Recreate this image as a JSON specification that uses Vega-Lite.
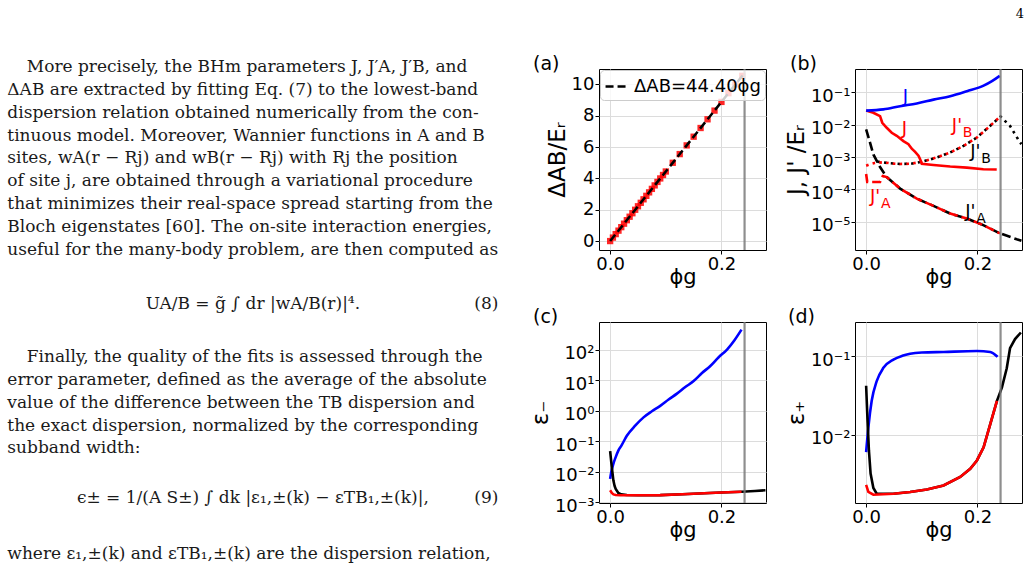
{
  "$schema": "https://vega.github.io/schema/vega-lite/v6.json",
  "background": "white",
  "autosize": {"type": "pad"},
  "padding": {"top": 8, "left": 0, "right": 0, "bottom": 0},
  "title": {"text": "4", "anchor": "end", "font": "DejaVu Serif", "fontSize": 13, "fontWeight": "normal", "color": "black", "offset": 23, "baseline": "alphabetic", "dx": -3},
  "columns": 3,
  "align": "each",
  "bounds": "flush",
  "spacing": {"row": 72, "column": 89},
  "resolve": {
    "scale": {"strokeDash": "independent", "color": "independent"},
    "legend": {"strokeDash": "independent", "color": "independent"}
  },
  "config": {
    "view": {"stroke": "black", "strokeWidth": 1},
    "axis": {
      "labelFont": "DejaVu Sans", "labelFontSize": 18, "labelColor": "black",
      "titleFont": "DejaVu Sans", "titleFontWeight": "normal", "titleColor": "black",
      "domain": false, "tickColor": "black", "tickSize": 4, "tickWidth": 1,
      "labelPadding": 1, "gridColor": "#dcdcdc", "gridWidth": 1,
      "labelFlush": false, "labelOverlap": false, "labelBound": false
    },
    "axisX": {"titlePadding": -7, "titleFontSize": 21},
    "axisY": {"titlePadding": 2, "titleFontSize": 23}
  },
  "datasets": {
    "pageText": [
      {"blk": "top", "kind": "indent", "ln": 1, "txt": "More precisely, the BHm parameters J, J′A, J′B, and"},
      {"blk": "top", "kind": "body", "ln": 2, "txt": "ΔAB are extracted by fitting Eq. (7) to the lowest-band"},
      {"blk": "top", "kind": "body", "ln": 3, "txt": "dispersion relation obtained numerically from the con-"},
      {"blk": "top", "kind": "body", "ln": 4, "txt": "tinuous model. Moreover, Wannier functions in A and B"},
      {"blk": "top", "kind": "body", "ln": 5, "txt": "sites, wA(r − Rj) and wB(r − Rj) with Rj the position"},
      {"blk": "top", "kind": "body", "ln": 6, "txt": "of site j, are obtained through a variational procedure"},
      {"blk": "top", "kind": "body", "ln": 7, "txt": "that minimizes their real-space spread starting from the"},
      {"blk": "top", "kind": "body", "ln": 8, "txt": "Bloch eigenstates [60]. The on-site interaction energies,"},
      {"blk": "top", "kind": "body", "ln": 9, "txt": "useful for the many-body problem, are then computed as"},
      {"blk": "bot", "kind": "eq", "ln": -1.34, "txt": "UA/B = g̃ ∫ dr |wA/B(r)|⁴."},
      {"blk": "bot", "kind": "eqno", "ln": -1.34, "txt": "(8)"},
      {"blk": "bot", "kind": "indent", "ln": 1, "txt": "Finally, the quality of the fits is assessed through the"},
      {"blk": "bot", "kind": "body", "ln": 2, "txt": "error parameter, defined as the average of the absolute"},
      {"blk": "bot", "kind": "body", "ln": 3, "txt": "value of the difference between the TB dispersion and"},
      {"blk": "bot", "kind": "body", "ln": 4, "txt": "the exact dispersion, normalized by the corresponding"},
      {"blk": "bot", "kind": "body", "ln": 5, "txt": "subband width:"},
      {"blk": "bot", "kind": "eq", "ln": 7.17, "txt": "ϵ± = 1/(A S±) ∫ dk |ε₁,±(k) − εTB₁,±(k)|,"},
      {"blk": "bot", "kind": "eqno", "ln": 7.17, "txt": "(9)"},
      {"blk": "bot", "kind": "body", "ln": 9.64, "txt": "where ε₁,±(k) and εTB₁,±(k) are the dispersion relation,"}
    ],
    "critical": [{"phi": 0.2415}],
    "aPts": [
      {"phi": 0, "d": 0}, {"phi": 0.005, "d": 0.222}, {"phi": 0.01, "d": 0.444}, {"phi": 0.015, "d": 0.666},
      {"phi": 0.02, "d": 0.888}, {"phi": 0.025, "d": 1.11}, {"phi": 0.03, "d": 1.332}, {"phi": 0.035, "d": 1.554},
      {"phi": 0.04, "d": 1.776}, {"phi": 0.045, "d": 1.998}, {"phi": 0.05, "d": 2.22}, {"phi": 0.055, "d": 2.442},
      {"phi": 0.06, "d": 2.664}, {"phi": 0.065, "d": 2.886}, {"phi": 0.07, "d": 3.108}, {"phi": 0.075, "d": 3.33},
      {"phi": 0.08, "d": 3.552}, {"phi": 0.085, "d": 3.774}, {"phi": 0.09, "d": 3.996}, {"phi": 0.095, "d": 4.218},
      {"phi": 0.1, "d": 4.44}, {"phi": 0.1125, "d": 4.995}, {"phi": 0.125, "d": 5.55}, {"phi": 0.1375, "d": 6.105},
      {"phi": 0.15, "d": 6.66}, {"phi": 0.1625, "d": 7.215}, {"phi": 0.175, "d": 7.77}, {"phi": 0.1875, "d": 8.325},
      {"phi": 0.2, "d": 8.88}, {"phi": 0.2125, "d": 9.435}, {"phi": 0.225, "d": 9.99}, {"phi": 0.2375, "d": 10.545}
    ],
    "aFit": [{"phi": 0, "d": 0}, {"phi": 0.24, "d": 10.656}],
    "bJ1": [
      {"phi": 0, "v": 0.027}, {"phi": 0.031, "v": 0.0295}, {"phi": 0.061, "v": 0.037}, {"phi": 0.091, "v": 0.0447},
      {"phi": 0.121, "v": 0.059}, {"phi": 0.151, "v": 0.075}, {"phi": 0.181, "v": 0.107}, {"phi": 0.211, "v": 0.159},
      {"phi": 0.226, "v": 0.22}, {"phi": 0.24, "v": 0.32}
    ],
    "bJ2": [
      {"phi": 0, "v": 0.027}, {"phi": 0.013, "v": 0.0232}, {"phi": 0.025, "v": 0.0183}, {"phi": 0.029, "v": 0.0114},
      {"phi": 0.037, "v": 0.008}, {"phi": 0.046, "v": 0.0056}, {"phi": 0.055, "v": 0.0045}, {"phi": 0.067, "v": 0.0031},
      {"phi": 0.076, "v": 0.0025}, {"phi": 0.082, "v": 0.0018}, {"phi": 0.088, "v": 0.00144}, {"phi": 0.094, "v": 0.0011},
      {"phi": 0.097, "v": 0.00085}, {"phi": 0.1, "v": 0.00062}, {"phi": 0.121, "v": 0.00057}, {"phi": 0.151, "v": 0.00051},
      {"phi": 0.181, "v": 0.00047}, {"phi": 0.2105, "v": 0.00042}, {"phi": 0.2346, "v": 0.00041}
    ],
    "bJB2": [
      {"phi": 0, "v": 0.00054}, {"phi": 0.006, "v": 0.00059}, {"phi": 0.015, "v": 0.00065}, {"phi": 0.031, "v": 0.00069},
      {"phi": 0.045, "v": 0.00063}, {"phi": 0.061, "v": 0.00061}, {"phi": 0.08, "v": 0.00062}, {"phi": 0.1, "v": 0.00071},
      {"phi": 0.127, "v": 0.00097}, {"phi": 0.151, "v": 0.00138}, {"phi": 0.175, "v": 0.0022}, {"phi": 0.199, "v": 0.004},
      {"phi": 0.2226, "v": 0.0091}, {"phi": 0.2405, "v": 0.0175}
    ],
    "bJB1": [
      {"phi": 0.02, "v": 0.00072}, {"phi": 0.04, "v": 0.00065}, {"phi": 0.061, "v": 0.00061}, {"phi": 0.08, "v": 0.00062},
      {"phi": 0.1, "v": 0.00071}, {"phi": 0.127, "v": 0.00097}, {"phi": 0.151, "v": 0.00138}, {"phi": 0.175, "v": 0.0022},
      {"phi": 0.199, "v": 0.004}, {"phi": 0.2226, "v": 0.0091}, {"phi": 0.2415, "v": 0.0178}, {"phi": 0.2585, "v": 0.0091},
      {"phi": 0.2765, "v": 0.0028}, {"phi": 0.279, "v": 0.0025}
    ],
    "bJA1": [
      {"phi": 0, "v": 0.0071}, {"phi": 0.007, "v": 0.0028}, {"phi": 0.013, "v": 0.0012}, {"phi": 0.025, "v": 0.00049},
      {"phi": 0.037, "v": 0.00024}, {"phi": 0.061, "v": 0.000106}, {"phi": 0.091, "v": 0.000052}, {"phi": 0.121, "v": 0.000031},
      {"phi": 0.151, "v": 0.000018}, {"phi": 0.181, "v": 0.0000126}, {"phi": 0.2105, "v": 0.0000079}, {"phi": 0.2405, "v": 0.0000044},
      {"phi": 0.2705, "v": 0.0000029}, {"phi": 0.279, "v": 0.0000026}
    ],
    "bJA2": [
      {"phi": 0, "v": 0.0003}, {"phi": 0.002, "v": 0.00017}, {"phi": 0.015, "v": 0.00017}, {"phi": 0.025, "v": 0.00017},
      {"phi": 0.03, "v": 0.00026}, {"phi": 0.037, "v": 0.00024}, {"phi": 0.061, "v": 0.000106}, {"phi": 0.091, "v": 0.000052},
      {"phi": 0.121, "v": 0.000031}, {"phi": 0.151, "v": 0.000018}, {"phi": 0.181, "v": 0.0000126}, {"phi": 0.2105, "v": 0.0000079},
      {"phi": 0.2405, "v": 0.0000044}
    ],
    "bLabels": [
      {"s": "J1", "t": "J", "phi": 0.066, "v": 0.05},
      {"s": "J2", "t": "J", "phi": 0.064, "v": 0.005},
      {"s": "JB2", "t": "J'", "sub": "B", "phi": 0.154, "v": 0.0064},
      {"s": "JB1", "t": "J'", "sub": "B", "phi": 0.187, "v": 0.00097},
      {"s": "JA2", "t": "J'", "sub": "A", "phi": 0.007, "v": 0.000041},
      {"s": "JA1", "t": "J'", "sub": "A", "phi": 0.178, "v": 0.000014}
    ],
    "cBlue": [
      {"phi": 0, "v": 0.0058}, {"phi": 0.002, "v": 0.0095}, {"phi": 0.0058, "v": 0.018}, {"phi": 0.01, "v": 0.03},
      {"phi": 0.0147, "v": 0.049}, {"phi": 0.02, "v": 0.07}, {"phi": 0.03, "v": 0.15}, {"phi": 0.045, "v": 0.32},
      {"phi": 0.06, "v": 0.6}, {"phi": 0.075, "v": 0.95}, {"phi": 0.09, "v": 1.43}, {"phi": 0.105, "v": 2.3},
      {"phi": 0.12, "v": 3.6}, {"phi": 0.135, "v": 5.9}, {"phi": 0.15, "v": 9.3}, {"phi": 0.165, "v": 17},
      {"phi": 0.18, "v": 29}, {"phi": 0.195, "v": 56}, {"phi": 0.21, "v": 100}, {"phi": 0.224, "v": 210},
      {"phi": 0.236, "v": 450}
    ],
    "cBlack": [
      {"phi": 0, "v": 0.047}, {"phi": 0.003, "v": 0.014}, {"phi": 0.0058, "v": 0.0052}, {"phi": 0.008, "v": 0.0034},
      {"phi": 0.01, "v": 0.0027}, {"phi": 0.0147, "v": 0.002}, {"phi": 0.02, "v": 0.0018}, {"phi": 0.03, "v": 0.00172},
      {"phi": 0.05, "v": 0.00168}, {"phi": 0.09, "v": 0.0017}, {"phi": 0.13, "v": 0.00182}, {"phi": 0.179, "v": 0.002},
      {"phi": 0.2, "v": 0.00208}, {"phi": 0.236, "v": 0.0022}, {"phi": 0.26, "v": 0.00232}, {"phi": 0.279, "v": 0.00245}
    ],
    "cRed": [
      {"phi": 0, "v": 0.00245}, {"phi": 0.003, "v": 0.002}, {"phi": 0.006, "v": 0.0018}, {"phi": 0.01, "v": 0.00172},
      {"phi": 0.018, "v": 0.00168}, {"phi": 0.05, "v": 0.00168}, {"phi": 0.09, "v": 0.0017}, {"phi": 0.13, "v": 0.00182},
      {"phi": 0.179, "v": 0.002}, {"phi": 0.2, "v": 0.00208}, {"phi": 0.236, "v": 0.0022}
    ],
    "dBlue": [
      {"phi": 0, "v": 0.006}, {"phi": 0.004, "v": 0.0124}, {"phi": 0.01, "v": 0.027}, {"phi": 0.019, "v": 0.048},
      {"phi": 0.031, "v": 0.071}, {"phi": 0.049, "v": 0.0905}, {"phi": 0.065, "v": 0.101}, {"phi": 0.079, "v": 0.107},
      {"phi": 0.1, "v": 0.111}, {"phi": 0.139, "v": 0.113}, {"phi": 0.199, "v": 0.116}, {"phi": 0.223, "v": 0.113},
      {"phi": 0.236, "v": 0.098}
    ],
    "dBlack": [
      {"phi": 0, "v": 0.042}, {"phi": 0.0023, "v": 0.0165}, {"phi": 0.005, "v": 0.0063}, {"phi": 0.008, "v": 0.0032},
      {"phi": 0.013, "v": 0.0021}, {"phi": 0.019, "v": 0.00177}, {"phi": 0.049, "v": 0.00177}, {"phi": 0.079, "v": 0.00186},
      {"phi": 0.109, "v": 0.002}, {"phi": 0.139, "v": 0.00226}, {"phi": 0.169, "v": 0.0029}, {"phi": 0.187, "v": 0.00367},
      {"phi": 0.199, "v": 0.0047}, {"phi": 0.211, "v": 0.0069}, {"phi": 0.223, "v": 0.0136}, {"phi": 0.235, "v": 0.027},
      {"phi": 0.244, "v": 0.04}, {"phi": 0.2526, "v": 0.07}, {"phi": 0.2585, "v": 0.126}, {"phi": 0.2675, "v": 0.165},
      {"phi": 0.278, "v": 0.2}
    ],
    "dRed": [
      {"phi": 0, "v": 0.0023}, {"phi": 0.004, "v": 0.00187}, {"phi": 0.013, "v": 0.00172}, {"phi": 0.049, "v": 0.00177},
      {"phi": 0.079, "v": 0.00186}, {"phi": 0.109, "v": 0.002}, {"phi": 0.139, "v": 0.00226}, {"phi": 0.169, "v": 0.0029},
      {"phi": 0.187, "v": 0.00367}, {"phi": 0.199, "v": 0.0047}, {"phi": 0.211, "v": 0.0069}, {"phi": 0.223, "v": 0.0136},
      {"phi": 0.235, "v": 0.027}
    ]
  },
  "concat": [
    {
      "width": 510, "height": 181,
      "view": {"stroke": null},
      "data": {"name": "pageText"},
      "transform": [{"filter": "datum.blk == 'top'"}],
      "layer": [
        {
          "transform": [{"filter": "datum.kind == 'body'"}],
          "mark": {"type": "text", "align": "left", "baseline": "alphabetic", "font": "DejaVu Serif", "fontSize": 17, "color": "#1a1a1a"},
          "encoding": {
            "x": {"datum": 0, "type": "quantitative", "scale": {"domain": [-0.01494, 1.02363], "nice": false, "zero": false}, "axis": null},
            "y": {"field": "ln", "type": "quantitative", "scale": {"domain": [0.8553, 8.7939], "nice": false, "zero": false, "reverse": true}, "axis": null},
            "text": {"field": "txt"}
          }
        },
        {
          "transform": [{"filter": "datum.kind == 'indent'"}],
          "mark": {"type": "text", "align": "left", "baseline": "alphabetic", "font": "DejaVu Serif", "fontSize": 17, "color": "#1a1a1a", "dx": 19.4},
          "encoding": {
            "x": {"datum": 0, "type": "quantitative", "scale": {"domain": [-0.01494, 1.02363], "nice": false, "zero": false}, "axis": null},
            "y": {"field": "ln", "type": "quantitative", "scale": {"domain": [0.8553, 8.7939], "nice": false, "zero": false, "reverse": true}, "axis": null},
            "text": {"field": "txt"}
          }
        }
      ]
    },
    {
      "width": 167, "height": 181,
      "title": {"text": "(a)", "anchor": "start", "frame": "group", "dx": -66, "dy": 22, "offset": 1, "baseline": "alphabetic", "font": "DejaVu Sans", "fontSize": 19, "fontWeight": "normal", "color": "black"},
      "layer": [
        {
          "data": {"name": "aPts"},
          "mark": {"type": "square", "size": 40, "color": "#ff0000", "opacity": 0.85, "filled": true},
          "encoding": {
            "x": {"field": "phi", "type": "quantitative", "title": "ϕg", "scale": {"domain": [-0.02, 0.28], "nice": false, "zero": false}, "axis": {"values": [0, 0.2], "format": ".1f", "grid": true, "labelOverlap": false}},
            "y": {"field": "d", "type": "quantitative", "title": "ΔAB/Eᵣ", "scale": {"domain": [-0.57, 10.98], "nice": false, "zero": false}, "axis": {"values": [0, 2, 4, 6, 8, 10], "grid": true, "labelOverlap": false}}
          }
        },
        {
          "data": {"name": "aFit"},
          "mark": {"type": "line", "color": "black", "strokeWidth": 2.5},
          "encoding": {
            "x": {"field": "phi", "type": "quantitative", "title": "ϕg", "scale": {"domain": [-0.02, 0.28], "nice": false, "zero": false}, "axis": {"values": [0, 0.2], "format": ".1f", "grid": true, "labelOverlap": false}},
            "y": {"field": "d", "type": "quantitative", "title": "ΔAB/Eᵣ", "scale": {"domain": [-0.57, 10.98], "nice": false, "zero": false}, "axis": {"values": [0, 2, 4, 6, 8, 10], "grid": true, "labelOverlap": false}},
            "strokeDash": {
              "datum": "ΔAB=44.40ϕg",
              "scale": {"range": [[8, 4]]},
              "legend": {
                "orient": "top-right", "offset": 1, "padding": 4, "title": null,
                "fillColor": "rgba(255,255,255,0.8)", "strokeColor": "#cccccc", "cornerRadius": 4,
                "symbolType": "stroke", "symbolSize": 480, "symbolStrokeWidth": 2.5, "symbolStrokeColor": "black",
                "labelFont": "DejaVu Sans", "labelFontSize": 18, "labelColor": "black", "labelLimit": 300, "labelOffset": 5
              }
            }
          }
        },
        {
          "data": {"name": "critical"},
          "mark": {"type": "rule", "color": "#7a7a7a", "strokeWidth": 2.2, "opacity": 0.85},
          "encoding": {
            "x": {"field": "phi", "type": "quantitative", "title": "ϕg", "scale": {"domain": [-0.02, 0.28], "nice": false, "zero": false}}
          }
        }
      ]
    },
    {
      "width": 167, "height": 181,
      "title": {"text": "(b)", "anchor": "start", "frame": "group", "dx": -65, "dy": 22, "offset": 1, "baseline": "alphabetic", "font": "DejaVu Sans", "fontSize": 19, "fontWeight": "normal", "color": "black"},
      "layer": [
        {
          "data": {"name": "bJA1"},
          "mark": {"type": "line", "color": "black", "strokeWidth": 2.6, "strokeDash": [9, 4]},
          "encoding": {
            "x": {"field": "phi", "type": "quantitative", "title": "ϕg", "scale": {"domain": [-0.02, 0.28], "nice": false, "zero": false}, "axis": {"values": [0, 0.2], "format": ".1f", "grid": true, "labelOverlap": false}},
            "y": {"field": "v", "type": "quantitative", "title": "J, J' /Eᵣ", "scale": {"type": "log", "domain": [1.35e-6, 0.52], "nice": false},
                  "axis": {"values": [1e-5, 1e-4, 1e-3, 1e-2, 1e-1], "grid": true, "labelOffset": 4, "labelOverlap": false,
                           "labelExpr": "datum.value < 3e-5 ? '10⁻⁵' : datum.value < 3e-4 ? '10⁻⁴' : datum.value < 3e-3 ? '10⁻³' : datum.value < 3e-2 ? '10⁻²' : datum.value < 0.3 ? '10⁻¹' : datum.value < 3 ? '10⁰' : datum.value < 30 ? '10¹' : '10²'"}}
          }
        },
        {
          "data": {"name": "bJA2"},
          "mark": {"type": "line", "color": "#ff0000", "strokeWidth": 2.6, "strokeDash": [9, 4]},
          "encoding": {
            "x": {"field": "phi", "type": "quantitative", "title": "ϕg", "scale": {"domain": [-0.02, 0.28], "nice": false, "zero": false}},
            "y": {"field": "v", "type": "quantitative", "title": "J, J' /Eᵣ", "scale": {"type": "log", "domain": [1.35e-6, 0.52], "nice": false}}
          }
        },
        {
          "data": {"name": "bJB1"},
          "mark": {"type": "line", "color": "black", "strokeWidth": 2.6, "strokeDash": [2.6, 4.2]},
          "encoding": {
            "x": {"field": "phi", "type": "quantitative", "title": "ϕg", "scale": {"domain": [-0.02, 0.28], "nice": false, "zero": false}},
            "y": {"field": "v", "type": "quantitative", "title": "J, J' /Eᵣ", "scale": {"type": "log", "domain": [1.35e-6, 0.52], "nice": false}}
          }
        },
        {
          "data": {"name": "bJB2"},
          "mark": {"type": "line", "color": "#ff0000", "strokeWidth": 2.6, "strokeDash": [2.6, 4.2]},
          "encoding": {
            "x": {"field": "phi", "type": "quantitative", "title": "ϕg", "scale": {"domain": [-0.02, 0.28], "nice": false, "zero": false}},
            "y": {"field": "v", "type": "quantitative", "title": "J, J' /Eᵣ", "scale": {"type": "log", "domain": [1.35e-6, 0.52], "nice": false}}
          }
        },
        {
          "data": {"name": "bJ2"},
          "mark": {"type": "line", "color": "#ff0000", "strokeWidth": 2.6},
          "encoding": {
            "x": {"field": "phi", "type": "quantitative", "title": "ϕg", "scale": {"domain": [-0.02, 0.28], "nice": false, "zero": false}},
            "y": {"field": "v", "type": "quantitative", "title": "J, J' /Eᵣ", "scale": {"type": "log", "domain": [1.35e-6, 0.52], "nice": false}}
          }
        },
        {
          "data": {"name": "bJ1"},
          "mark": {"type": "line", "color": "#0000ff", "strokeWidth": 2.6, "interpolate": "monotone"},
          "encoding": {
            "x": {"field": "phi", "type": "quantitative", "title": "ϕg", "scale": {"domain": [-0.02, 0.28], "nice": false, "zero": false}},
            "y": {"field": "v", "type": "quantitative", "title": "J, J' /Eᵣ", "scale": {"type": "log", "domain": [1.35e-6, 0.52], "nice": false}}
          }
        },
        {
          "data": {"name": "bLabels"},
          "mark": {"type": "text", "align": "left", "baseline": "alphabetic", "font": "DejaVu Sans", "fontSize": 18},
          "encoding": {
            "x": {"field": "phi", "type": "quantitative", "title": "ϕg", "scale": {"domain": [-0.02, 0.28], "nice": false, "zero": false}},
            "y": {"field": "v", "type": "quantitative", "title": "J, J' /Eᵣ", "scale": {"type": "log", "domain": [1.35e-6, 0.52], "nice": false}},
            "text": {"field": "t"},
            "color": {"field": "s", "type": "nominal", "scale": {"domain": ["J1", "J2", "JB2", "JB1", "JA2", "JA1"], "range": ["#0000ff", "#ff0000", "#ff0000", "#000000", "#ff0000", "#000000"]}, "legend": null}
          }
        },
        {
          "data": {"name": "bLabels"},
          "transform": [{"filter": "isValid(datum.sub)"}],
          "mark": {"type": "text", "align": "left", "baseline": "alphabetic", "font": "DejaVu Sans", "fontSize": 14, "dx": 11, "dy": 6},
          "encoding": {
            "x": {"field": "phi", "type": "quantitative", "title": "ϕg", "scale": {"domain": [-0.02, 0.28], "nice": false, "zero": false}},
            "y": {"field": "v", "type": "quantitative", "title": "J, J' /Eᵣ", "scale": {"type": "log", "domain": [1.35e-6, 0.52], "nice": false}},
            "text": {"field": "sub"},
            "color": {"field": "s", "type": "nominal", "scale": {"domain": ["J1", "J2", "JB2", "JB1", "JA2", "JA1"], "range": ["#0000ff", "#ff0000", "#ff0000", "#000000", "#ff0000", "#000000"]}, "legend": null}
          }
        },
        {
          "data": {"name": "critical"},
          "mark": {"type": "rule", "color": "#7a7a7a", "strokeWidth": 2.2, "opacity": 0.85},
          "encoding": {
            "x": {"field": "phi", "type": "quantitative", "title": "ϕg", "scale": {"domain": [-0.02, 0.28], "nice": false, "zero": false}}
          }
        }
      ]
    },
    {
      "width": 510, "height": 181,
      "view": {"stroke": null},
      "data": {"name": "pageText"},
      "transform": [{"filter": "datum.blk == 'bot'"}],
      "layer": [
        {
          "transform": [{"filter": "datum.kind == 'body'"}],
          "mark": {"type": "text", "align": "left", "baseline": "alphabetic", "font": "DejaVu Serif", "fontSize": 17, "color": "#1a1a1a"},
          "encoding": {
            "x": {"datum": 0, "type": "quantitative", "scale": {"domain": [-0.01494, 1.02363], "nice": false, "zero": false}, "axis": null},
            "y": {"field": "ln", "type": "quantitative", "scale": {"domain": [-0.7675, 7.1711], "nice": false, "zero": false, "reverse": true}, "axis": null},
            "text": {"field": "txt"}
          }
        },
        {
          "transform": [{"filter": "datum.kind == 'indent'"}],
          "mark": {"type": "text", "align": "left", "baseline": "alphabetic", "font": "DejaVu Serif", "fontSize": 17, "color": "#1a1a1a", "dx": 19.4},
          "encoding": {
            "x": {"datum": 0, "type": "quantitative", "scale": {"domain": [-0.01494, 1.02363], "nice": false, "zero": false}, "axis": null},
            "y": {"field": "ln", "type": "quantitative", "scale": {"domain": [-0.7675, 7.1711], "nice": false, "zero": false, "reverse": true}, "axis": null},
            "text": {"field": "txt"}
          }
        },
        {
          "transform": [{"filter": "datum.kind == 'eq'"}],
          "mark": {"type": "text", "align": "center", "baseline": "alphabetic", "font": "DejaVu Serif", "fontSize": 17, "color": "#1a1a1a"},
          "encoding": {
            "x": {"datum": 0.5, "type": "quantitative", "scale": {"domain": [-0.01494, 1.02363], "nice": false, "zero": false}, "axis": null},
            "y": {"field": "ln", "type": "quantitative", "scale": {"domain": [-0.7675, 7.1711], "nice": false, "zero": false, "reverse": true}, "axis": null},
            "text": {"field": "txt"}
          }
        },
        {
          "transform": [{"filter": "datum.kind == 'eqno'"}],
          "mark": {"type": "text", "align": "right", "baseline": "alphabetic", "font": "DejaVu Serif", "fontSize": 17, "color": "#1a1a1a"},
          "encoding": {
            "x": {"datum": 1, "type": "quantitative", "scale": {"domain": [-0.01494, 1.02363], "nice": false, "zero": false}, "axis": null},
            "y": {"field": "ln", "type": "quantitative", "scale": {"domain": [-0.7675, 7.1711], "nice": false, "zero": false, "reverse": true}, "axis": null},
            "text": {"field": "txt"}
          }
        }
      ]
    },
    {
      "width": 167, "height": 181,
      "title": {"text": "(c)", "anchor": "start", "frame": "group", "dx": -66, "dy": 22, "offset": 1, "baseline": "alphabetic", "font": "DejaVu Sans", "fontSize": 19, "fontWeight": "normal", "color": "black"},
      "layer": [
        {
          "data": {"name": "cBlue"},
          "mark": {"type": "line", "color": "#0000ff", "strokeWidth": 2.6, "interpolate": "monotone"},
          "encoding": {
            "x": {"field": "phi", "type": "quantitative", "title": "ϕg", "scale": {"domain": [-0.02, 0.28], "nice": false, "zero": false}, "axis": {"values": [0, 0.2], "format": ".1f", "grid": true, "labelOverlap": false}},
            "y": {"field": "v", "type": "quantitative", "title": "ε₋", "scale": {"type": "log", "domain": [0.00094, 800], "nice": false},
                  "axis": {"values": [1e-3, 1e-2, 1e-1, 1, 10, 100], "grid": true, "labelOffset": 4, "labelOverlap": false,
                           "labelExpr": "datum.value < 3e-5 ? '10⁻⁵' : datum.value < 3e-4 ? '10⁻⁴' : datum.value < 3e-3 ? '10⁻³' : datum.value < 3e-2 ? '10⁻²' : datum.value < 0.3 ? '10⁻¹' : datum.value < 3 ? '10⁰' : datum.value < 30 ? '10¹' : '10²'"}}
          }
        },
        {
          "data": {"name": "cBlack"},
          "mark": {"type": "line", "color": "black", "strokeWidth": 2.6},
          "encoding": {
            "x": {"field": "phi", "type": "quantitative", "title": "ϕg", "scale": {"domain": [-0.02, 0.28], "nice": false, "zero": false}},
            "y": {"field": "v", "type": "quantitative", "title": "ε₋", "scale": {"type": "log", "domain": [0.00094, 800], "nice": false}}
          }
        },
        {
          "data": {"name": "cRed"},
          "mark": {"type": "line", "color": "#ff0000", "strokeWidth": 2.6},
          "encoding": {
            "x": {"field": "phi", "type": "quantitative", "title": "ϕg", "scale": {"domain": [-0.02, 0.28], "nice": false, "zero": false}},
            "y": {"field": "v", "type": "quantitative", "title": "ε₋", "scale": {"type": "log", "domain": [0.00094, 800], "nice": false}}
          }
        },
        {
          "data": {"name": "critical"},
          "mark": {"type": "rule", "color": "#7a7a7a", "strokeWidth": 2.2, "opacity": 0.85},
          "encoding": {
            "x": {"field": "phi", "type": "quantitative", "title": "ϕg", "scale": {"domain": [-0.02, 0.28], "nice": false, "zero": false}}
          }
        }
      ]
    },
    {
      "width": 167, "height": 181,
      "title": {"text": "(d)", "anchor": "start", "frame": "group", "dx": -67, "dy": 22, "offset": 1, "baseline": "alphabetic", "font": "DejaVu Sans", "fontSize": 19, "fontWeight": "normal", "color": "black"},
      "layer": [
        {
          "data": {"name": "dBlue"},
          "mark": {"type": "line", "color": "#0000ff", "strokeWidth": 2.6, "interpolate": "monotone"},
          "encoding": {
            "x": {"field": "phi", "type": "quantitative", "title": "ϕg", "scale": {"domain": [-0.02, 0.28], "nice": false, "zero": false}, "axis": {"values": [0, 0.2], "format": ".1f", "grid": true, "labelOverlap": false}},
            "y": {"field": "v", "type": "quantitative", "title": "ε₊", "scale": {"type": "log", "domain": [0.00135, 0.272], "nice": false},
                  "axis": {"values": [1e-2, 1e-1], "grid": true, "labelOffset": 4, "labelOverlap": false,
                           "labelExpr": "datum.value < 3e-5 ? '10⁻⁵' : datum.value < 3e-4 ? '10⁻⁴' : datum.value < 3e-3 ? '10⁻³' : datum.value < 3e-2 ? '10⁻²' : datum.value < 0.3 ? '10⁻¹' : datum.value < 3 ? '10⁰' : datum.value < 30 ? '10¹' : '10²'"}}
          }
        },
        {
          "data": {"name": "dBlack"},
          "mark": {"type": "line", "color": "black", "strokeWidth": 2.6},
          "encoding": {
            "x": {"field": "phi", "type": "quantitative", "title": "ϕg", "scale": {"domain": [-0.02, 0.28], "nice": false, "zero": false}},
            "y": {"field": "v", "type": "quantitative", "title": "ε₊", "scale": {"type": "log", "domain": [0.00135, 0.272], "nice": false}}
          }
        },
        {
          "data": {"name": "dRed"},
          "mark": {"type": "line", "color": "#ff0000", "strokeWidth": 2.6},
          "encoding": {
            "x": {"field": "phi", "type": "quantitative", "title": "ϕg", "scale": {"domain": [-0.02, 0.28], "nice": false, "zero": false}},
            "y": {"field": "v", "type": "quantitative", "title": "ε₊", "scale": {"type": "log", "domain": [0.00135, 0.272], "nice": false}}
          }
        },
        {
          "data": {"name": "critical"},
          "mark": {"type": "rule", "color": "#7a7a7a", "strokeWidth": 2.2, "opacity": 0.85},
          "encoding": {
            "x": {"field": "phi", "type": "quantitative", "title": "ϕg", "scale": {"domain": [-0.02, 0.28], "nice": false, "zero": false}}
          }
        }
      ]
    }
  ]
}
